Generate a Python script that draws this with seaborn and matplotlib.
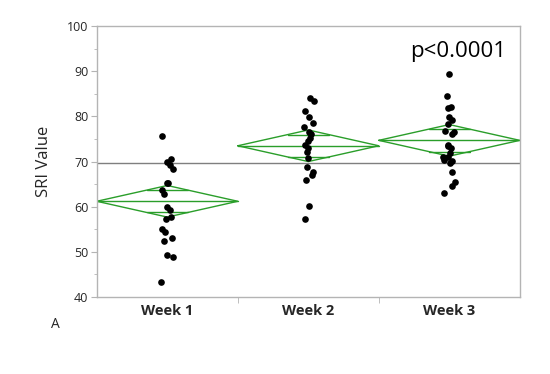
import numpy as np
import pandas as pd
import matplotlib
matplotlib.use("Agg")
import matplotlib.pyplot as plt
import seaborn as sns

# values (SRI per subject)
week1 = [75.6, 70.5, 69.9, 69.3, 68.3, 65.3, 65.3, 63.6, 62.9, 59.9,
         59.2, 57.7, 57.2, 55.0, 54.5, 53.1, 52.3, 49.4, 48.8, 43.3]
week2 = [84.0, 83.4, 81.2, 79.8, 78.6, 77.7, 76.6, 76.0, 75.2, 74.5,
         73.6, 72.9, 72.1, 70.8, 68.8, 67.6, 67.1, 65.9, 60.1, 57.2]
week3 = [89.3, 84.5, 82.1, 81.9, 79.9, 79.3, 78.4, 76.6, 76.7, 76.2,
         73.6, 73.4, 73.1, 71.9, 71.0, 71.0, 70.3, 70.1, 69.7, 67.7,
         65.5, 64.5, 63.0]
groups = ["Week 1", "Week 2", "Week 3"]

# means diamonds (mean, 95% CI half width) and grand mean
group_means = [61.2, 73.5, 74.7]
ci_half = [3.5, 3.5, 3.5]
grand_mean = 69.7
p_text = "p<0.0001"

df = pd.DataFrame({
    "week": ["Week 1"] * len(week1) + ["Week 2"] * len(week2) + ["Week 3"] * len(week3),
    "sri": week1 + week2 + week3,
})

sns.set_style("white")
plt.rcParams["font.family"] = ["Open Sans", "DejaVu Sans"]

fig = plt.figure(figsize=(5.5, 3.74), dpi=100)
ax = fig.add_axes([0.176, 0.206, 0.769, 0.724])

green = "#2a9e2a"
ax.axhline(grand_mean, color="#7f7f7f", lw=1.0, zorder=1)

for i, (m, h) in enumerate(zip(group_means, ci_half)):
    # diamond outline + mean line
    ax.plot([i - 0.5, i, i + 0.5, i, i - 0.5], [m, m + h, m, m - h, m],
            color=green, lw=1.0, zorder=2)
    ax.plot([i - 0.5, i + 0.5], [m, m], color=green, lw=1.0, zorder=2)
    # overlap marks
    off = h / np.sqrt(2)
    hw = 0.5 * (1 - 1 / np.sqrt(2))
    for y in (m + off, m - off):
        ax.plot([i - hw, i + hw], [y, y], color=green, lw=1.0, zorder=2)

np.random.seed(7)
sns.stripplot(data=df, x="week", y="sri", order=groups, color="black",
              size=4.8, jitter=0.045, ax=ax, zorder=3)

ax.set_xlim(-0.5, 2.5)
ax.set_ylim(40, 100)
ax.set_yticks(range(40, 101, 10))
ax.set_yticks(range(45, 100, 10), minor=True)
ax.set_xticks([0, 1, 2])
ax.set_xticks([0.5, 1.5], minor=True)
ax.set_xticklabels(groups, fontsize=10.5, fontweight="bold")
ax.set_xlabel("")
ax.set_ylabel("SRI Value", fontsize=12, labelpad=11)

for s in ax.spines.values():
    s.set_color("#b4b4b4")
    s.set_linewidth(1.0)
ax.tick_params(axis="y", which="major", direction="out", length=4,
               color="#b4b4b4", labelsize=9, pad=2, left=True)
ax.tick_params(axis="y", which="minor", direction="out", length=2,
               color="#b4b4b4", left=True)
ax.tick_params(axis="x", which="major", length=0, pad=5)
ax.tick_params(axis="x", which="minor", direction="out", length=4,
               color="#b4b4b4", bottom=True)

ax.text(0.74, 0.905, p_text, transform=ax.transAxes, fontsize=16,
        color="black", ha="left", va="center")
fig.text(55 / 550, 1 - 325 / 374, "A", fontsize=10, ha="center", va="center")

fig.savefig("out.png", dpi=100)
